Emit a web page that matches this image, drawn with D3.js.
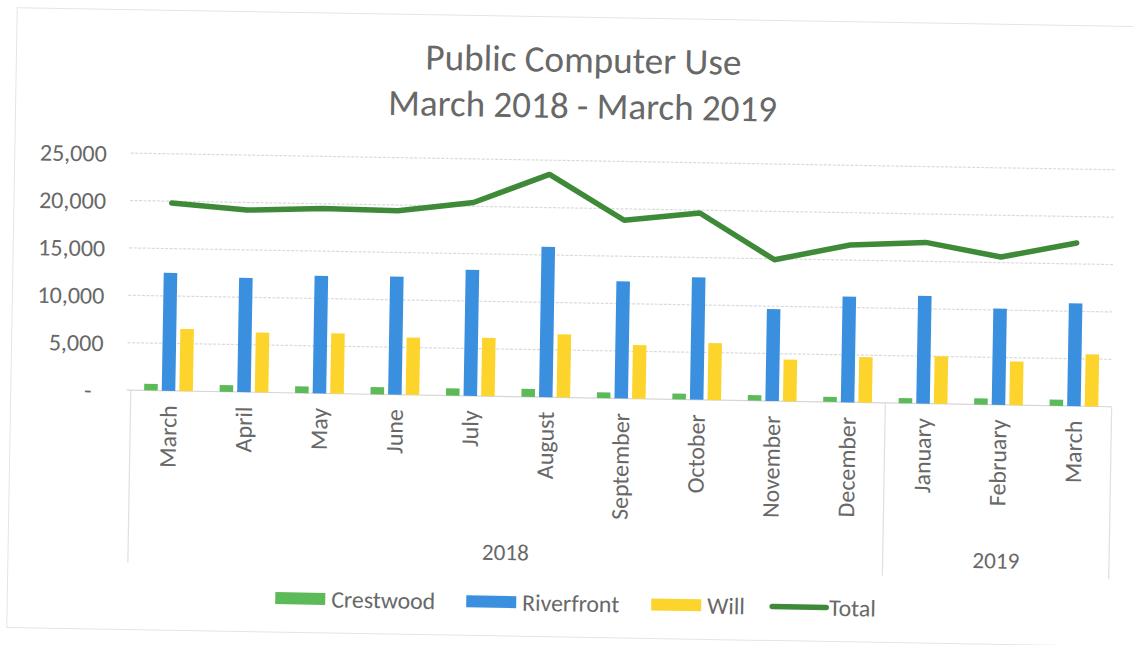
<!DOCTYPE html>
<html><head><meta charset="utf-8">
<script src="https://cdn.jsdelivr.net/npm/d3@7"></script>
<style>
body{margin:0;background:#fff;}
svg text{font-family:Carlito, Calibri, Lato, sans-serif; fill:#686868;}
</style></head><body>
<svg id="c" width="1133" height="645"></svg>
<script>
// ---- data ----
const months = ["March","April","May","June","July","August","September","October","November","December","January","February","March"];
const crestwood  = [700, 700, 700, 750, 750, 850, 600, 600, 600, 550, 550, 650, 650];
const riverfront = [12450, 12050, 12400, 12450, 13300, 15850, 12350, 12900, 9700, 11150, 11350, 10150, 10850];
const will       = [6550, 6300, 6350, 6050, 6150, 6650, 5650, 6000, 4400, 4800, 5000, 4600, 5500];
const total      = [19800, 19200, 19500, 19400, 20400, 23500, 18800, 19700, 14900, 16600, 17000, 15600, 17200];
const yTicks = [0, 5000, 10000, 15000, 20000, 25000];
const yearGroups = [{year:"2018", from:0, to:9}, {year:"2019", from:10, to:12}];
const barSeries = ["Crestwood","Riverfront","Will"];
const titleLines = ["Public Computer Use","March 2018 - March 2019"];

const colors = {Crestwood:"#5cbb58", Riverfront:"#3a8fde", Will:"#fcd42c", Total:"#3e8a38"};
const values = {Crestwood:crestwood, Riverfront:riverfront, Will:will};

const svg = d3.select("#c");
const g = svg.append("g").attr("transform","rotate(0.97,566,322)");

// fit font-size so text has target width
function fit(sel, target){
  const w = sel.node().getComputedTextLength();
  const fs = parseFloat(sel.attr("font-size"));
  const nfs = fs*target/w;
  sel.attr("font-size", nfs);
  return nfs;
}
function measureSize(str, target){
  const t = g.append("text").attr("font-size",20).text(str);
  const s = fit(t, target); t.remove(); return s;
}

// outer frame
g.append("rect").attr("x",12).attr("y",17).attr("width",1140).attr("height",620)
  .attr("fill","none").attr("stroke","#e4e4e4").attr("stroke-width",1);

const x0 = d3.scaleBand().domain(d3.range(months.length)).range([132,1113]);
const x1 = d3.scaleBand().domain(barSeries).range([0,x0.bandwidth()]).paddingInner(0.23).paddingOuter(0.76);
const y = d3.scaleLinear().domain([0,25000]).range([397.5,160.5]);

// title
const t1 = g.append("text").attr("x",579).attr("y",72).attr("text-anchor","middle").attr("font-size",36).text(titleLines[0]);
fit(t1, 316);
const t2 = g.append("text").attr("x",579).attr("y",118).attr("text-anchor","middle").attr("font-size",36).text(titleLines[1]);
fit(t2, 389);

// gridlines
g.append("g").selectAll("line").data(yTicks.filter(d=>d>0)).join("line")
  .attr("x1",128).attr("x2",1113).attr("y1",d=>y(d)).attr("y2",d=>y(d))
  .attr("stroke","#dadada").attr("stroke-width",1.2).attr("stroke-dasharray","3,1.5");
g.append("line").attr("x1",128).attr("x2",1113).attr("y1",y(0)).attr("y2",y(0))
  .attr("stroke","#d6d6d6").attr("stroke-width",1.2);

// y axis labels
const tickSize = measureSize("25,000", 67);
const yAxis = d3.axisLeft(y).tickValues(yTicks).tickSize(0).tickPadding(0)
  .tickFormat(d => d===0 ? "-" : d3.format(",")(d));
const ya = g.append("g").attr("transform","translate(104,0)").call(yAxis);
ya.select(".domain").remove();
ya.selectAll("text").attr("font-size",tickSize).attr("fill","#686868")
  .style("font-family","Carlito, Calibri, Lato, sans-serif").attr("dy","0.35em");
ya.selectAll(".tick").filter(d=>d===0).select("text").attr("text-anchor","middle").attr("x",-15);

// bars
const groups = g.append("g").selectAll("g").data(d3.range(months.length)).join("g")
  .attr("transform", i => `translate(${x0(i)},0)`);
groups.selectAll("rect").data(i => barSeries.map(s => ({s, v: values[s][i]}))).join("rect")
  .attr("x", d => x1(d.s)).attr("width", x1.bandwidth())
  .attr("y", d => y(d.v)).attr("height", d => y(0)-y(d.v))
  .attr("fill", d => colors[d.s]);

// total line
const line = d3.line().x((d,i)=>x0(i)+x0.bandwidth()/2).y(d=>y(d));
g.append("path").datum(total).attr("d",line).attr("fill","none")
  .attr("stroke",colors.Total).attr("stroke-width",5.5).attr("stroke-linejoin","round").attr("stroke-linecap","round");

// month labels
const monthSize = measureSize("September", 107);
g.append("g").selectAll("text").data(months).join("text")
  .attr("transform",(d,i)=>`translate(${x0(i)+x0.bandwidth()/2},412) rotate(-90)`)
  .attr("text-anchor","end").attr("dy","0.35em").attr("font-size",monthSize).text(d=>d);

// category separators
const seps = [0, ...yearGroups.map(gr => gr.to+1)];
g.append("g").selectAll("line").data(seps).join("line")
  .attr("x1", i => i<months.length ? x0(i) : x0.range()[1])
  .attr("x2", i => i<months.length ? x0(i) : x0.range()[1])
  .attr("y1", y(0)).attr("y2", 570).attr("stroke","#e0e0e0").attr("stroke-width",1.2);

// year labels
const yearSize = measureSize("2018", 47);
g.append("g").selectAll("text").data(yearGroups).join("text")
  .attr("x", gr => (x0(gr.from) + x0(gr.to)+x0.bandwidth())/2)
  .attr("y", 553).attr("dy","0.35em").attr("text-anchor","middle").attr("font-size",yearSize).text(gr=>gr.year);

// legend
const legSize = measureSize("Crestwood", 104);
const legend = [
  {name:"Crestwood", type:"bar", x:280},
  {name:"Riverfront", type:"bar", x:471},
  {name:"Will", type:"bar", x:656},
  {name:"Total", type:"line", x:776}
];
const lg = g.append("g").selectAll("g").data(legend).join("g").attr("transform", d=>`translate(${d.x},603)`);
lg.filter(d=>d.type==="bar").append("rect").attr("x",0).attr("y",-6).attr("width",50).attr("height",12).attr("fill",d=>colors[d.name]);
lg.filter(d=>d.type==="line").append("line").attr("x1",1).attr("x2",55).attr("y1",0).attr("y2",0)
  .attr("stroke",colors.Total).attr("stroke-width",5.5).attr("stroke-linecap","round");
lg.append("text").attr("x",d=>d.type==="bar"?56:58).attr("dy","0.35em").attr("font-size",legSize).text(d=>d.name);
</script>
</body></html>
